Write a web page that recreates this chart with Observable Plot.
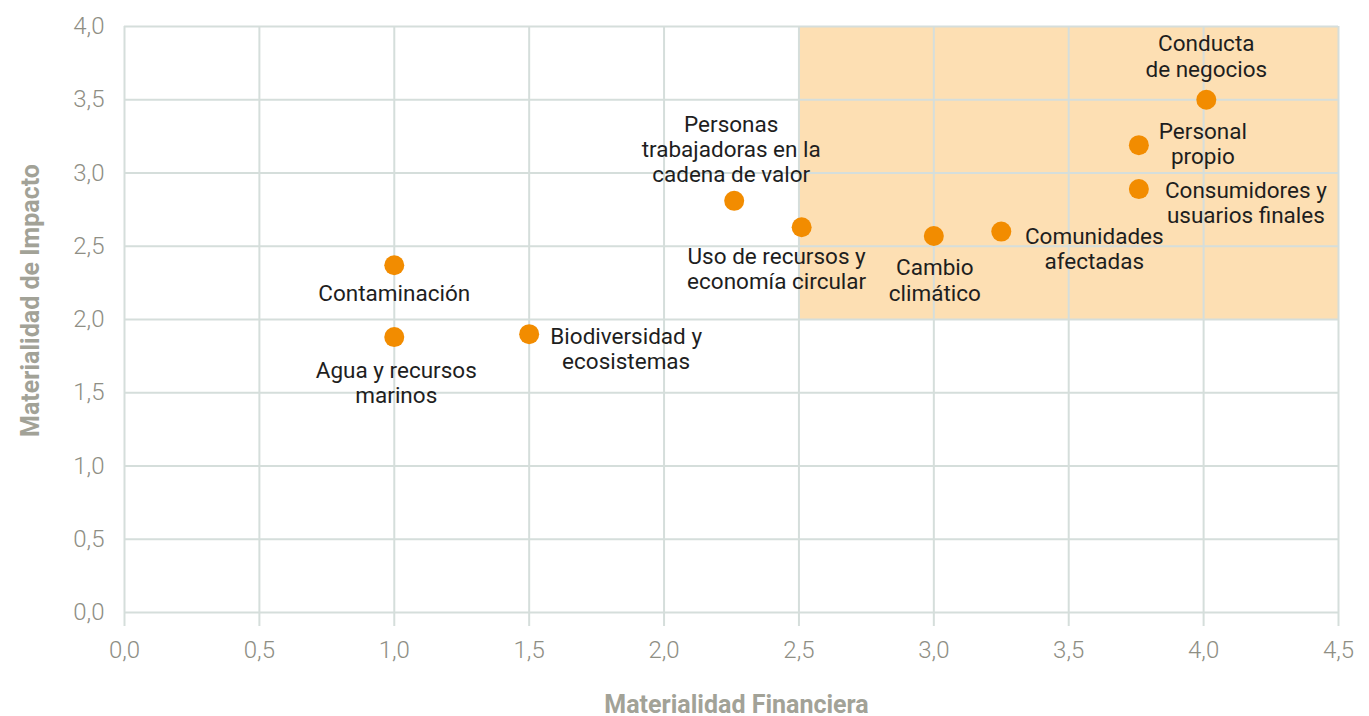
<!DOCTYPE html>
<html>
<head>
<meta charset="utf-8">
<script src="https://cdn.jsdelivr.net/npm/d3@7"></script>
<script src="https://cdn.jsdelivr.net/npm/@observablehq/plot@0.6"></script>
<style>
  html, body { margin: 0; padding: 0; background: #fff; }
  #chart svg { display: block; }
</style>
</head>
<body>
<div id="chart"></div>
<script>
// ---- data ----
const topics = [
  "Conducta\nde negocios",
  "Personal\npropio",
  "Consumidores y\nusuarios finales",
  "Comunidades\nafectadas",
  "Cambio\nclimático",
  "Uso de recursos y\neconomía circular",
  "Personas\ntrabajadoras en la\ncadena de valor",
  "Contaminación",
  "Agua y recursos\nmarinos",
  "Biodiversidad y\necosistemas"
];
const financiera = [4.01, 3.76, 3.76, 3.25, 3.00, 2.51, 2.26, 1.00, 1.00, 1.50];
const impacto    = [3.50, 3.19, 2.89, 2.60, 2.57, 2.63, 2.81, 2.37, 1.88, 1.90];
const xTicks = [0, 0.5, 1, 1.5, 2, 2.5, 3, 3.5, 4, 4.5];
const yTicks = [0, 0.5, 1, 1.5, 2, 2.5, 3, 3.5, 4];
const zoneX = [2.5, 4.5];
const zoneY = [2.0, 4.0];
const xTitle = "Materialidad Financiera";
const yTitle = "Materialidad de Impacto";

// ---- layout (label offsets in px, not data) ----
const labelOffsets = [
  [0, -44], [64, -2], [107, 13], [93, 17], [1, 44],
  [-25, 41], [-3, -52], [0, 28], [2, 45], [97, 14]
];

const data = topics.map((t, i) => ({name: t, x: financiera[i], y: impacto[i]}));
const zone = [{x1: zoneX[0], x2: zoneX[1], y1: zoneY[0], y2: zoneY[1]}];
const fmt = d => d.toFixed(1).replace(".", ",");

const gridColor = "#d5dedb";
const tickColor = "#8e8e84";
const titleColor = "#a2a297";
const font = "Roboto, 'Noto Sans', sans-serif";

const labelMarks = data.map((d, i) => Plot.text([d], {
  x: "x", y: "y", text: "name",
  dx: labelOffsets[i][0], dy: labelOffsets[i][1],
  fill: "#1e1e1e", fontSize: 22.5, lineHeight: 1.13, textAnchor: "middle"
}));

const chart = Plot.plot({
  width: 1369,
  height: 716,
  marginLeft: 124,
  marginRight: 31,
  marginTop: 26,
  marginBottom: 104,
  style: {fontFamily: font, background: "#fff", overflow: "visible"},
  x: {domain: [0, 4.5]},
  y: {domain: [0, 4.0]},
  marks: [
    Plot.rect(zone, {x1: "x1", x2: "x2", y1: "y1", y2: "y2", fill: "#fddfb3"}),
    Plot.gridX(xTicks, {stroke: gridColor, strokeOpacity: 1, strokeWidth: 2}),
    Plot.gridY(yTicks, {stroke: gridColor, strokeOpacity: 1, strokeWidth: 2}),
    Plot.axisX(xTicks, {tickSize: 14, tickPadding: 14, stroke: gridColor, strokeWidth: 2, tickFormat: fmt, fontSize: 24, fontWeight: 300, fill: tickColor, label: null}),
    Plot.axisY(yTicks, {tickSize: 0, tickPadding: 20, tickFormat: fmt, fontSize: 24, fontWeight: 300, fill: tickColor, label: null}),
    Plot.dot(data, {x: "x", y: "y", r: 10, fill: "#f28c00", stroke: "none"}),
    ...labelMarks,
    Plot.text([xTitle], {frameAnchor: "bottom", textAnchor: "middle", lineAnchor: "middle", dx: 5, dy: 92, fontSize: 25, fontWeight: "bold", fill: titleColor}),
    Plot.text([yTitle], {frameAnchor: "left", textAnchor: "middle", lineAnchor: "middle", dx: -94, dy: -19, rotate: -90, fontSize: 25, fontWeight: "bold", fill: titleColor})
  ]
});
document.getElementById("chart").appendChild(chart);
</script>
</body>
</html>
